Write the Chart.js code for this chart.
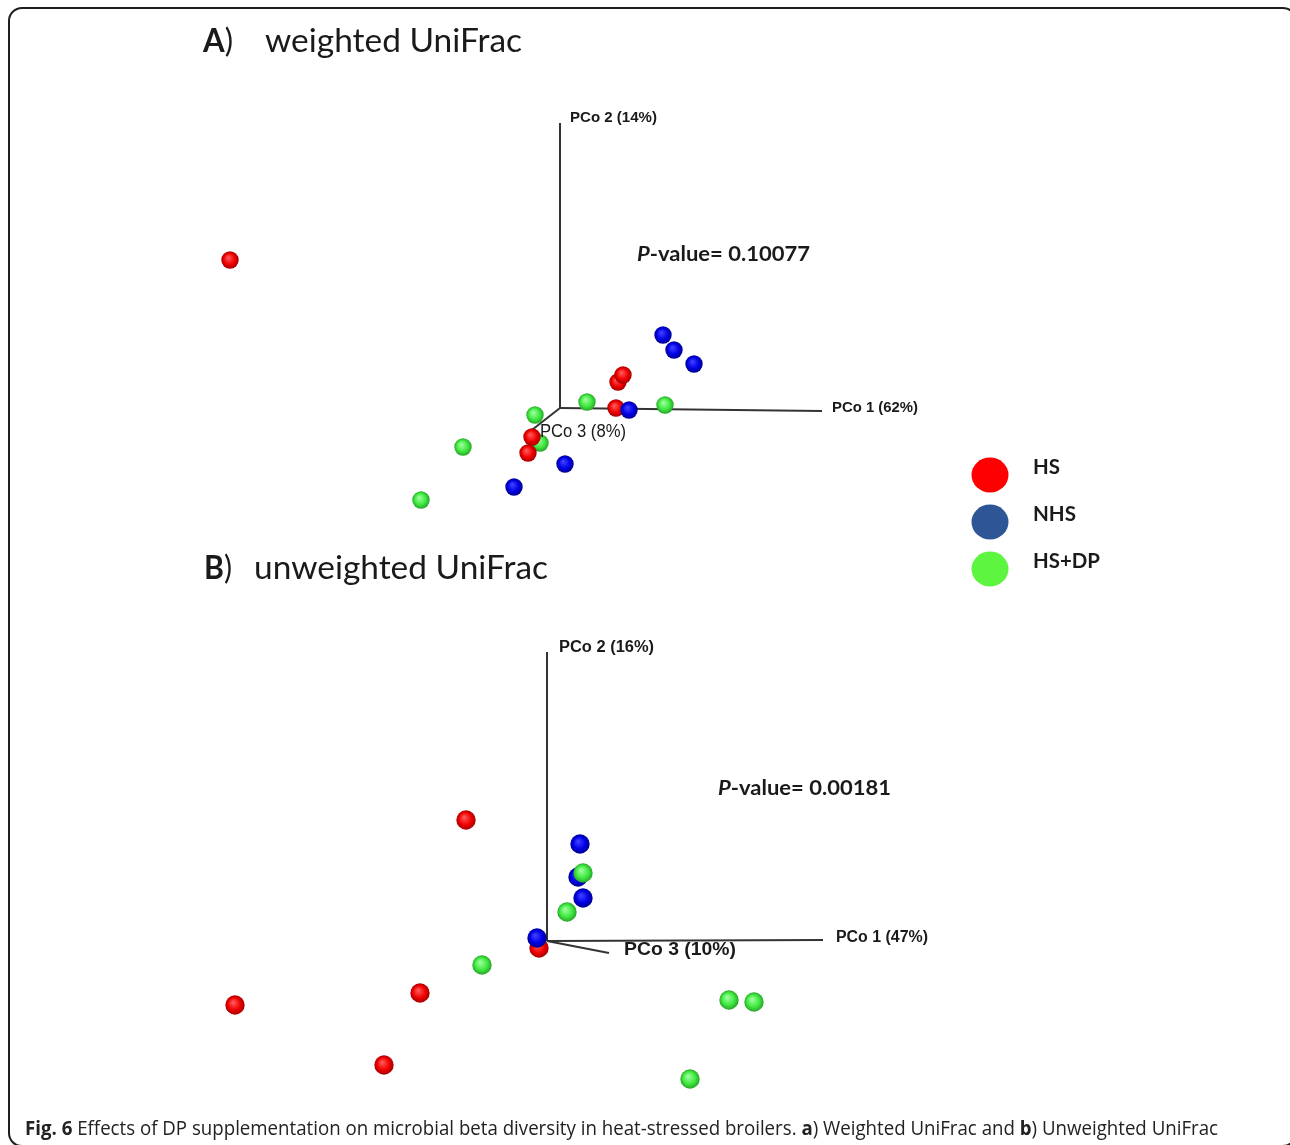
<!DOCTYPE html>
<html><head><meta charset="utf-8">
<script src="https://cdn.jsdelivr.net/npm/chart.js@4.4.1/dist/chart.umd.min.js"></script>
<style>
html,body{margin:0;padding:0;background:#fff;overflow:hidden;}
#wrap{position:relative;width:1290px;height:1145px;overflow:hidden;background:#fff;}
#frame{position:absolute;left:8px;top:7px;width:1285px;height:1136px;border:2px solid #1e1e1e;border-radius:14px;}
canvas{position:absolute;left:0;}
#cA{top:0}
#cB{top:540px}
</style></head><body>
<div id="wrap"><div id="frame"></div>
<canvas id="cA" width="1290" height="600"></canvas>
<canvas id="cB" width="1290" height="605"></canvas>
</div>
<script>
// ---------- DATA (projected PCoA coordinates) ----------
const groups = ['HS', 'NHS', 'HS+DP'];

// A) weighted UniFrac
const weightedHS   = [[-3.30,1.48],[0.58,0.26],[0.63,0.33],[0.56,0.00],[-0.28,-0.29],[-0.32,-0.45]];
const weightedNHS  = [[1.03,0.73],[1.14,0.58],[1.34,0.44],[0.69,-0.02],[0.05,-0.56],[-0.46,-0.79]];
const weightedHSDP = [[0.27,0.06],[1.05,0.03],[-0.25,-0.07],[-0.20,-0.35],[-0.97,-0.39],[-1.39,-0.92]];
const weightedAxisEnds = [[2.62,-0.03],[0,2.85],[-0.32,-0.25]];
const weightedAxisLabels = ['PCo 1 (62%)','PCo 2 (14%)','PCo 3 (8%)'];
const weightedP = '0.10077';

// B) unweighted UniFrac
const unweightedHS   = [[-0.81,1.21],[-3.12,-0.64],[-1.27,-0.52],[-1.63,-1.24],[-0.08,-0.07]];
const unweightedNHS  = [[0.33,0.97],[0.31,0.64],[0.36,0.43],[-0.10,0.03]];
const unweightedHSDP = [[0.36,0.68],[0.20,0.29],[-0.65,-0.24],[1.82,-0.59],[2.07,-0.61],[1.43,-1.38]];
const unweightedAxisEnds = [[2.76,0.01],[0,2.89],[0.62,-0.12]];
const unweightedAxisLabels = ['PCo 1 (47%)','PCo 2 (16%)','PCo 3 (10%)'];
const unweightedP = '0.00181';

const caption = ['Fig. 6', ' Effects of DP supplementation on microbial beta diversity in heat-stressed broilers. ', 'a', ') Weighted UniFrac and ', 'b', ') Unweighted UniFrac'];

// ---------- helpers ----------
function sphere(d, light, base, dark){
  const c=document.createElement('canvas'); c.width=c.height=d;
  const g=c.getContext('2d'); const r=d/2;
  const grd=g.createRadialGradient(r*0.8,r*0.72,r*0.05,r,r,r);
  grd.addColorStop(0,light); grd.addColorStop(0.6,base); grd.addColorStop(1,dark);
  g.fillStyle=grd; g.beginPath(); g.arc(r,r,r-0.3,0,Math.PI*2); g.fill();
  return c;
}
const COLORS = {
  HS:   ['#ff5a5a','#f00000','#a00000'],
  NHS:  ['#4040ff','#0000e6','#000088'],
  HSDP: ['#9dff9d','#40e840','#25a025']
};
function pts(arr){ return arr.map(p=>({x:p[0],y:p[1]})); }
function runs(ctx, parts, x, y, width, color){
  ctx.save(); ctx.fillStyle=color||'#1a1a1a'; ctx.textBaseline='alphabetic';
  let total=0; parts.forEach(p=>{ctx.font=p.f; total+=ctx.measureText(p.t).width;});
  const s = width ? width/total : 1;
  ctx.translate(x,y); ctx.scale(s,1);
  let cx=0; parts.forEach(p=>{ctx.font=p.f; ctx.fillText(p.t,cx,0); cx+=ctx.measureText(p.t).width;});
  ctx.restore();
}

function makeChart(id, d, top, xr, yr, size, topFirst, labelCfg, extraDraw){
  const sp = {
    HS: sphere(size, ...COLORS.HS), NHS: sphere(size, ...COLORS.NHS), HSDP: sphere(size, ...COLORS.HSDP)
  };
  const ds = {
    HS:   {label:groups[0], data:pts(d.hs),   pointStyle:sp.HS,   pointRadius:size/2},
    NHS:  {label:groups[1], data:pts(d.nhs),  pointStyle:sp.NHS,  pointRadius:size/2},
    HSDP: {label:groups[2], data:pts(d.hsdp), pointStyle:sp.HSDP, pointRadius:size/2}
  };
  const datasets = topFirst.map(k=>ds[k]);
  d.axes.forEach((e,i)=>{
    datasets.push({label:'axis'+i, data:[{x:0,y:0},{x:e[0],y:e[1]}], showLine:true,
      borderColor:'#333', borderWidth:2, pointRadius:0, fill:false});
  });
  const overlay = {
    id:'overlay',
    afterDatasetsDraw(chart){
      const ctx=chart.ctx, xs=chart.scales.x, ys=chart.scales.y;
      d.axes.forEach((e,i)=>{
        const L=labelCfg[i];
        const px=xs.getPixelForValue(e[0])+L.dx, py=ys.getPixelForValue(e[1])+L.dy;
        runs(ctx,[{t:d.labels[i],f:L.f}],px,py,L.w,'#1a1a1a');
      });
      extraDraw(ctx, -top);
    }
  };
  return new Chart(document.getElementById(id), {
    type:'scatter',
    data:{datasets},
    options:{
      responsive:false, animation:false, devicePixelRatio:1,
      layout:{padding:0, autoPadding:false},
      plugins:{legend:{display:false}, tooltip:{enabled:false}, title:{display:false}},
      scales:{
        x:{type:'linear', display:false, min:xr[0], max:xr[1]},
        y:{type:'linear', display:false, min:yr[0], max:yr[1]}
      }
    },
    plugins:[overlay]
  });
}

// ---------- Panel A ----------
makeChart('cA',
  {hs:weightedHS, nhs:weightedNHS, hsdp:weightedHSDP, axes:weightedAxisEnds, labels:weightedAxisLabels},
  0, [-5.60,7.30], [-1.92,4.08], 18, ['NHS','HS','HSDP'],
  [{dx:10,dy:1,f:'bold 15px "Liberation Sans"',w:86},
   {dx:10,dy:-1,f:'bold 14px "Liberation Sans"',w:87},
   {dx:12,dy:4,f:'18px "Liberation Sans"',w:86}],
  function(ctx,oy){
    runs(ctx,[{t:'A',f:'bold 32px Lato'},{t:')',f:'32px Lato'}],203,52+oy,30);
    runs(ctx,[{t:'weighted UniFrac',f:'32px Lato'}],265,52+oy,257);
    runs(ctx,[{t:'P',f:'italic bold 20px Lato'},{t:'-value= '+weightedP,f:'bold 20px Lato'}],637,261+oy,173);
    // legend
    const lc=['#fe0000','#2e5596','#5ef540'];
    const ly=[475,522,569];
    const lw=[27,43,67];
    groups.forEach((g,i)=>{
      ctx.save(); ctx.fillStyle=lc[i]; ctx.beginPath();
      ctx.ellipse(990,ly[i]+oy,18.5,17.5,0,0,Math.PI*2); ctx.fill(); ctx.restore();
      runs(ctx,[{t:g,f:'bold 20px Lato'}],1033,ly[i]-1+oy,lw[i]);
    });
  });

// ---------- Panel B ----------
makeChart('cB',
  {hs:unweightedHS, nhs:unweightedNHS, hsdp:unweightedHSDP, axes:unweightedAxisEnds, labels:unweightedAxisLabels},
  540, [-5.47,7.43], [-2.04,4.01], 20, ['HSDP','NHS','HS'],
  [{dx:13,dy:2,f:'bold 16px "Liberation Sans"',w:92},
   {dx:12,dy:0,f:'bold 16px "Liberation Sans"',w:95},
   {dx:15,dy:2,f:'bold 19px "Liberation Sans"',w:112}],
  function(ctx,oy){
    runs(ctx,[{t:'B',f:'bold 33px Lato'},{t:')',f:'33px Lato'}],204,579+oy,28);
    runs(ctx,[{t:'unweighted UniFrac',f:'33px Lato'}],254,579+oy,294);
    runs(ctx,[{t:'P',f:'italic bold 20px Lato'},{t:'-value= '+unweightedP,f:'bold 20px Lato'}],718,795+oy,173);
    runs(ctx,[
      {t:caption[0],f:'bold 20px "Open Sans"'},{t:caption[1],f:'20px "Open Sans"'},
      {t:caption[2],f:'bold 20px "Open Sans"'},{t:caption[3],f:'20px "Open Sans"'},
      {t:caption[4],f:'bold 20px "Open Sans"'},{t:caption[5],f:'20px "Open Sans"'}
    ],25,1135+oy,1193,'#222');
  });
</script>
</body></html>
